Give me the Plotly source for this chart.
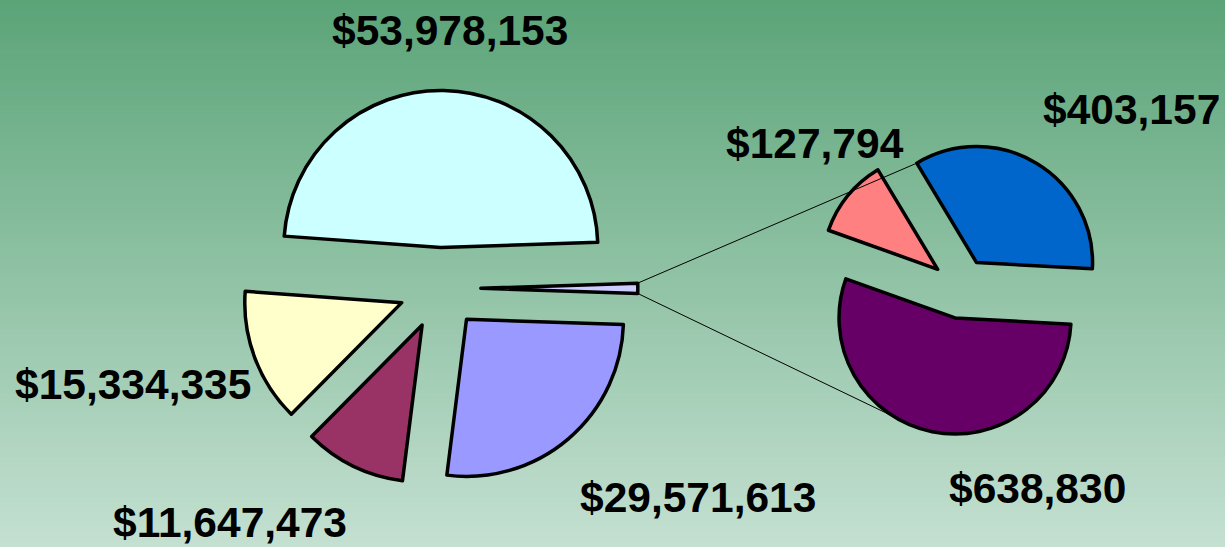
import math
import plotly.graph_objects as go

# ---------------- data ----------------
main_labels = ["Category A", "Other", "Category B", "Category C", "Category D"]
main_values = [53978153, None, 29571613, 11647473, 15334335]   # "Other" = sum of sub pie
main_colors = ["#CCFFFF", "#CCCCFF", "#9999FF", "#993366", "#FFFFCC"]

sub_labels = ["Sub 1", "Sub 2", "Sub 3"]
sub_values = [403157, 638830, 127794]
sub_colors = ["#0066CC", "#660066", "#FF8080"]

main_values[1] = sum(sub_values)

# ---------------- layout geometry ----------------
W, H = 1225, 547
PULL = 0.26
L_CX, L_CY, L_R = 440.0, 288.3, 157.0   # pixel centre / radius of main pie
R_CX, R_CY, R_R = 961.0, 288.4, 116.0   # pixel centre / radius of secondary pie
SUB_ROT = -31.0


def domain(cx, cy, r):
    half = r * (1 + PULL)
    yb = H - cy
    return dict(x=[(cx - half) / W, (cx + half) / W], y=[(yb - half) / H, (yb + half) / H])


main_total = sum(main_values)
sliver_deg = 360.0 * main_values[1] / main_total
cyan_deg = 360.0 * main_values[0] / main_total
MAIN_ROT = 90.0 - sliver_deg / 2 - cyan_deg

fig = go.Figure()

# gradient background (vertical)
top = (91, 164, 120)
bot = (196, 224, 209)
N = 110
for i in range(N):
    t = i / (N - 1)
    c = tuple(round(top[k] + (bot[k] - top[k]) * t) for k in range(3))
    y1 = 1 - i / N
    y0 = 1 - (i + 1) / N - 0.004
    fig.add_shape(type="rect", xref="paper", yref="paper", x0=0, x1=1, y0=max(y0, 0), y1=y1,
                  fillcolor="rgb(%d,%d,%d)" % c, line=dict(width=0), layer="below")

fig.add_trace(go.Pie(
    labels=main_labels, values=main_values, sort=False, direction="clockwise",
    rotation=MAIN_ROT, pull=PULL, textinfo="none", hoverinfo="label+value",
    marker=dict(colors=main_colors, line=dict(color="black", width=3.5)),
    domain=domain(L_CX, L_CY, L_R), showlegend=False,
))
fig.add_trace(go.Pie(
    labels=sub_labels, values=sub_values, sort=False, direction="clockwise",
    rotation=SUB_ROT, pull=PULL, textinfo="none", hoverinfo="label+value",
    marker=dict(colors=sub_colors, line=dict(color="black", width=3.5)),
    domain=domain(R_CX, R_CY, R_R), showlegend=False,
))


def on_slice(cx, cy, r, mid, ang):
    a = math.radians(mid)
    ax, ay = cx + PULL * r * math.sin(a), cy - PULL * r * math.cos(a)
    b = math.radians(ang)
    return ax + r * math.sin(b), ay - r * math.cos(b)


def to_paper(p):
    return p[0] / W, 1 - p[1] / H


# connector lines
sv_top = on_slice(L_CX, L_CY, L_R, 90, 90 - sliver_deg / 2)
sv_bot = on_slice(L_CX, L_CY, L_R, 90, 90 + sliver_deg / 2)
sub_total = sum(sub_values)
blue_deg = 360.0 * sub_values[0] / sub_total
purp_deg = 360.0 * sub_values[1] / sub_total
blue_mid = SUB_ROT + blue_deg / 2
purp_mid = SUB_ROT + blue_deg + purp_deg / 2
up_end = on_slice(R_CX, R_CY, R_R, blue_mid, SUB_ROT)
lo_end = on_slice(R_CX, R_CY, R_R, purp_mid, 180 - SUB_ROT)
for a, b in [(sv_top, up_end), (sv_bot, lo_end)]:
    pa, pb = to_paper(a), to_paper(b)
    fig.add_shape(type="line", xref="paper", yref="paper", x0=pa[0], y0=pa[1], x1=pb[0], y1=pb[1],
                  line=dict(color="black", width=1), layer="above")

# value labels
label_vals = [53978153, 29571613, 11647473, 15334335, 127794, 403157, 638830]
label_pos = [(449.5, 31), (697.5, 497), (230, 522), (133.3, 384), (815, 143), (1131, 109), (1037, 488)]
for v, (x, y) in zip(label_vals, label_pos):
    fig.add_annotation(x=x / W, y=1 - y / H, xref="paper", yref="paper", text="$" + format(v, ","),
                       showarrow=False, xanchor="center", yanchor="middle",
                       font=dict(family="Liberation Sans Narrow, Arial Narrow, Liberation Sans", size=42.5,
                                 color="black", weight="bold"))

fig.update_layout(width=W, height=H, margin=dict(l=0, r=0, t=0, b=0),
                  paper_bgcolor="rgb(140,190,160)", plot_bgcolor="rgba(0,0,0,0)")
fig.write_html("out.html", config={"displayModeBar": False},
               post_script="document.body.style.margin='0';document.body.style.overflow='hidden';")
